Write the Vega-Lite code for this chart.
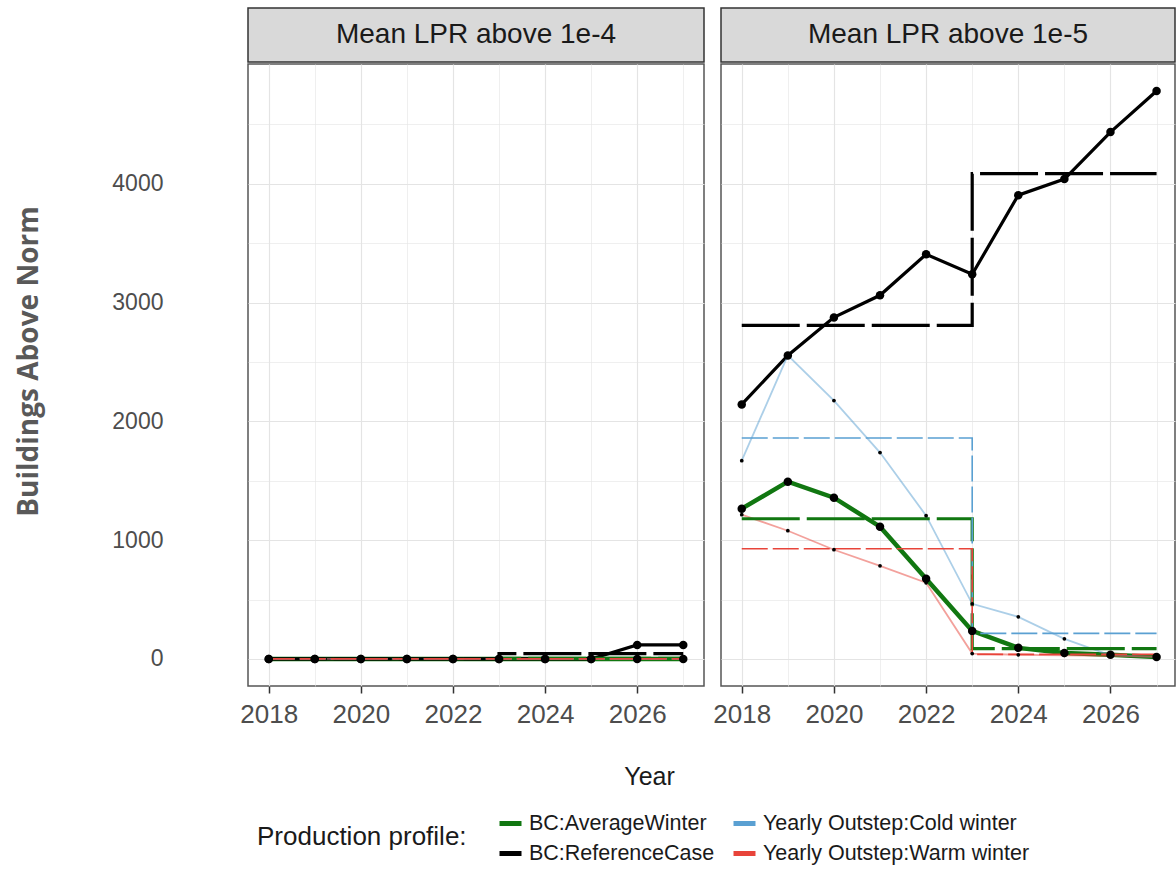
{
  "$schema": "https://vega.github.io/schema/vega-lite/v6.json",
  "padding": {"left": 15, "top": 7, "right": 0, "bottom": 5},
  "background": "white",
  "config": {
    "font": "Liberation Sans",
    "view": {"stroke": null},
    "axis": {"labelFont": "Liberation Sans", "titleFont": "Liberation Sans", "gridColor": "#e4e4e4"},
    "legend": {
      "orient": "none", "legendX": 9, "legendY": 802,
      "direction": "horizontal", "columns": 2,
      "titleOrient": "left", "titleAnchor": "middle", "titleBaseline": "middle",
      "titleFontSize": 26, "titleFontWeight": "normal", "titleColor": "#1a1a1a", "titlePadding": 30, "titleLimit": 500,
      "labelFontSize": 21.5, "labelColor": "#1a1a1a", "labelOffset": 5, "labelLimit": 500,
      "symbolType": "stroke", "symbolSize": 484, "symbolStrokeWidth": 5,
      "rowPadding": 6, "columnPadding": 8
    }
  },
  "datasets": {
    "strips": [{"panel": "Mean LPR above 1e-4"}, {"panel": "Mean LPR above 1e-5"}],
    "series": [
      {"panel":"Mean LPR above 1e-4","profile":"BC:AverageWinter","year":2018,"value":0,"kind":"annual"},
      {"panel":"Mean LPR above 1e-4","profile":"BC:AverageWinter","year":2019,"value":0,"kind":"annual"},
      {"panel":"Mean LPR above 1e-4","profile":"BC:AverageWinter","year":2020,"value":0,"kind":"annual"},
      {"panel":"Mean LPR above 1e-4","profile":"BC:AverageWinter","year":2021,"value":0,"kind":"annual"},
      {"panel":"Mean LPR above 1e-4","profile":"BC:AverageWinter","year":2022,"value":0,"kind":"annual"},
      {"panel":"Mean LPR above 1e-4","profile":"BC:AverageWinter","year":2023,"value":0,"kind":"annual"},
      {"panel":"Mean LPR above 1e-4","profile":"BC:AverageWinter","year":2024,"value":0,"kind":"annual"},
      {"panel":"Mean LPR above 1e-4","profile":"BC:AverageWinter","year":2025,"value":0,"kind":"annual"},
      {"panel":"Mean LPR above 1e-4","profile":"BC:AverageWinter","year":2026,"value":0,"kind":"annual"},
      {"panel":"Mean LPR above 1e-4","profile":"BC:AverageWinter","year":2027,"value":0,"kind":"annual"},
      {"panel":"Mean LPR above 1e-4","profile":"BC:AverageWinter","year":2018,"value":0,"kind":"mean"},
      {"panel":"Mean LPR above 1e-4","profile":"BC:AverageWinter","year":2023,"value":5,"kind":"mean"},
      {"panel":"Mean LPR above 1e-4","profile":"BC:AverageWinter","year":2027,"value":5,"kind":"mean"},
      {"panel":"Mean LPR above 1e-4","profile":"BC:ReferenceCase","year":2018,"value":0,"kind":"annual"},
      {"panel":"Mean LPR above 1e-4","profile":"BC:ReferenceCase","year":2019,"value":0,"kind":"annual"},
      {"panel":"Mean LPR above 1e-4","profile":"BC:ReferenceCase","year":2020,"value":0,"kind":"annual"},
      {"panel":"Mean LPR above 1e-4","profile":"BC:ReferenceCase","year":2021,"value":0,"kind":"annual"},
      {"panel":"Mean LPR above 1e-4","profile":"BC:ReferenceCase","year":2022,"value":0,"kind":"annual"},
      {"panel":"Mean LPR above 1e-4","profile":"BC:ReferenceCase","year":2023,"value":0,"kind":"annual"},
      {"panel":"Mean LPR above 1e-4","profile":"BC:ReferenceCase","year":2024,"value":0,"kind":"annual"},
      {"panel":"Mean LPR above 1e-4","profile":"BC:ReferenceCase","year":2025,"value":0,"kind":"annual"},
      {"panel":"Mean LPR above 1e-4","profile":"BC:ReferenceCase","year":2026,"value":118,"kind":"annual"},
      {"panel":"Mean LPR above 1e-4","profile":"BC:ReferenceCase","year":2027,"value":118,"kind":"annual"},
      {"panel":"Mean LPR above 1e-4","profile":"BC:ReferenceCase","year":2018,"value":0,"kind":"mean"},
      {"panel":"Mean LPR above 1e-4","profile":"BC:ReferenceCase","year":2023,"value":45,"kind":"mean"},
      {"panel":"Mean LPR above 1e-4","profile":"BC:ReferenceCase","year":2027,"value":45,"kind":"mean"},
      {"panel":"Mean LPR above 1e-4","profile":"Yearly Outstep:Cold winter","year":2018,"value":0,"kind":"annual"},
      {"panel":"Mean LPR above 1e-4","profile":"Yearly Outstep:Cold winter","year":2019,"value":0,"kind":"annual"},
      {"panel":"Mean LPR above 1e-4","profile":"Yearly Outstep:Cold winter","year":2020,"value":0,"kind":"annual"},
      {"panel":"Mean LPR above 1e-4","profile":"Yearly Outstep:Cold winter","year":2021,"value":0,"kind":"annual"},
      {"panel":"Mean LPR above 1e-4","profile":"Yearly Outstep:Cold winter","year":2022,"value":0,"kind":"annual"},
      {"panel":"Mean LPR above 1e-4","profile":"Yearly Outstep:Cold winter","year":2023,"value":0,"kind":"annual"},
      {"panel":"Mean LPR above 1e-4","profile":"Yearly Outstep:Cold winter","year":2024,"value":0,"kind":"annual"},
      {"panel":"Mean LPR above 1e-4","profile":"Yearly Outstep:Cold winter","year":2025,"value":0,"kind":"annual"},
      {"panel":"Mean LPR above 1e-4","profile":"Yearly Outstep:Cold winter","year":2026,"value":0,"kind":"annual"},
      {"panel":"Mean LPR above 1e-4","profile":"Yearly Outstep:Cold winter","year":2027,"value":0,"kind":"annual"},
      {"panel":"Mean LPR above 1e-4","profile":"Yearly Outstep:Cold winter","year":2018,"value":0,"kind":"mean"},
      {"panel":"Mean LPR above 1e-4","profile":"Yearly Outstep:Cold winter","year":2023,"value":0,"kind":"mean"},
      {"panel":"Mean LPR above 1e-4","profile":"Yearly Outstep:Cold winter","year":2027,"value":0,"kind":"mean"},
      {"panel":"Mean LPR above 1e-4","profile":"Yearly Outstep:Warm winter","year":2018,"value":0,"kind":"annual"},
      {"panel":"Mean LPR above 1e-4","profile":"Yearly Outstep:Warm winter","year":2019,"value":0,"kind":"annual"},
      {"panel":"Mean LPR above 1e-4","profile":"Yearly Outstep:Warm winter","year":2020,"value":0,"kind":"annual"},
      {"panel":"Mean LPR above 1e-4","profile":"Yearly Outstep:Warm winter","year":2021,"value":0,"kind":"annual"},
      {"panel":"Mean LPR above 1e-4","profile":"Yearly Outstep:Warm winter","year":2022,"value":0,"kind":"annual"},
      {"panel":"Mean LPR above 1e-4","profile":"Yearly Outstep:Warm winter","year":2023,"value":0,"kind":"annual"},
      {"panel":"Mean LPR above 1e-4","profile":"Yearly Outstep:Warm winter","year":2024,"value":0,"kind":"annual"},
      {"panel":"Mean LPR above 1e-4","profile":"Yearly Outstep:Warm winter","year":2025,"value":0,"kind":"annual"},
      {"panel":"Mean LPR above 1e-4","profile":"Yearly Outstep:Warm winter","year":2026,"value":0,"kind":"annual"},
      {"panel":"Mean LPR above 1e-4","profile":"Yearly Outstep:Warm winter","year":2027,"value":0,"kind":"annual"},
      {"panel":"Mean LPR above 1e-4","profile":"Yearly Outstep:Warm winter","year":2018,"value":0,"kind":"mean"},
      {"panel":"Mean LPR above 1e-4","profile":"Yearly Outstep:Warm winter","year":2023,"value":0,"kind":"mean"},
      {"panel":"Mean LPR above 1e-4","profile":"Yearly Outstep:Warm winter","year":2027,"value":0,"kind":"mean"},

      {"panel":"Mean LPR above 1e-5","profile":"BC:AverageWinter","year":2018,"value":1265,"kind":"annual"},
      {"panel":"Mean LPR above 1e-5","profile":"BC:AverageWinter","year":2019,"value":1492,"kind":"annual"},
      {"panel":"Mean LPR above 1e-5","profile":"BC:AverageWinter","year":2020,"value":1357,"kind":"annual"},
      {"panel":"Mean LPR above 1e-5","profile":"BC:AverageWinter","year":2021,"value":1113,"kind":"annual"},
      {"panel":"Mean LPR above 1e-5","profile":"BC:AverageWinter","year":2022,"value":675,"kind":"annual"},
      {"panel":"Mean LPR above 1e-5","profile":"BC:AverageWinter","year":2023,"value":236,"kind":"annual"},
      {"panel":"Mean LPR above 1e-5","profile":"BC:AverageWinter","year":2024,"value":93,"kind":"annual"},
      {"panel":"Mean LPR above 1e-5","profile":"BC:AverageWinter","year":2025,"value":50,"kind":"annual"},
      {"panel":"Mean LPR above 1e-5","profile":"BC:AverageWinter","year":2026,"value":35,"kind":"annual"},
      {"panel":"Mean LPR above 1e-5","profile":"BC:AverageWinter","year":2027,"value":17,"kind":"annual"},
      {"panel":"Mean LPR above 1e-5","profile":"BC:AverageWinter","year":2018,"value":1180,"kind":"mean"},
      {"panel":"Mean LPR above 1e-5","profile":"BC:AverageWinter","year":2023,"value":86,"kind":"mean"},
      {"panel":"Mean LPR above 1e-5","profile":"BC:AverageWinter","year":2027,"value":86,"kind":"mean"},
      {"panel":"Mean LPR above 1e-5","profile":"BC:ReferenceCase","year":2018,"value":2142,"kind":"annual"},
      {"panel":"Mean LPR above 1e-5","profile":"BC:ReferenceCase","year":2019,"value":2555,"kind":"annual"},
      {"panel":"Mean LPR above 1e-5","profile":"BC:ReferenceCase","year":2020,"value":2875,"kind":"annual"},
      {"panel":"Mean LPR above 1e-5","profile":"BC:ReferenceCase","year":2021,"value":3061,"kind":"annual"},
      {"panel":"Mean LPR above 1e-5","profile":"BC:ReferenceCase","year":2022,"value":3406,"kind":"annual"},
      {"panel":"Mean LPR above 1e-5","profile":"BC:ReferenceCase","year":2023,"value":3238,"kind":"annual"},
      {"panel":"Mean LPR above 1e-5","profile":"BC:ReferenceCase","year":2024,"value":3904,"kind":"annual"},
      {"panel":"Mean LPR above 1e-5","profile":"BC:ReferenceCase","year":2025,"value":4039,"kind":"annual"},
      {"panel":"Mean LPR above 1e-5","profile":"BC:ReferenceCase","year":2026,"value":4435,"kind":"annual"},
      {"panel":"Mean LPR above 1e-5","profile":"BC:ReferenceCase","year":2027,"value":4781,"kind":"annual"},
      {"panel":"Mean LPR above 1e-5","profile":"BC:ReferenceCase","year":2018,"value":2808,"kind":"mean"},
      {"panel":"Mean LPR above 1e-5","profile":"BC:ReferenceCase","year":2023,"value":4085,"kind":"mean"},
      {"panel":"Mean LPR above 1e-5","profile":"BC:ReferenceCase","year":2027,"value":4085,"kind":"mean"},
      {"panel":"Mean LPR above 1e-5","profile":"Yearly Outstep:Cold winter","year":2018,"value":1669,"kind":"annual"},
      {"panel":"Mean LPR above 1e-5","profile":"Yearly Outstep:Cold winter","year":2019,"value":2555,"kind":"annual"},
      {"panel":"Mean LPR above 1e-5","profile":"Yearly Outstep:Cold winter","year":2020,"value":2175,"kind":"annual"},
      {"panel":"Mean LPR above 1e-5","profile":"Yearly Outstep:Cold winter","year":2021,"value":1737,"kind":"annual"},
      {"panel":"Mean LPR above 1e-5","profile":"Yearly Outstep:Cold winter","year":2022,"value":1206,"kind":"annual"},
      {"panel":"Mean LPR above 1e-5","profile":"Yearly Outstep:Cold winter","year":2023,"value":464,"kind":"annual"},
      {"panel":"Mean LPR above 1e-5","profile":"Yearly Outstep:Cold winter","year":2024,"value":354,"kind":"annual"},
      {"panel":"Mean LPR above 1e-5","profile":"Yearly Outstep:Cold winter","year":2025,"value":169,"kind":"annual"},
      {"panel":"Mean LPR above 1e-5","profile":"Yearly Outstep:Cold winter","year":2026,"value":30,"kind":"annual"},
      {"panel":"Mean LPR above 1e-5","profile":"Yearly Outstep:Cold winter","year":2027,"value":17,"kind":"annual"},
      {"panel":"Mean LPR above 1e-5","profile":"Yearly Outstep:Cold winter","year":2018,"value":1860,"kind":"mean"},
      {"panel":"Mean LPR above 1e-5","profile":"Yearly Outstep:Cold winter","year":2023,"value":215,"kind":"mean"},
      {"panel":"Mean LPR above 1e-5","profile":"Yearly Outstep:Cold winter","year":2027,"value":215,"kind":"mean"},
      {"panel":"Mean LPR above 1e-5","profile":"Yearly Outstep:Warm winter","year":2018,"value":1214,"kind":"annual"},
      {"panel":"Mean LPR above 1e-5","profile":"Yearly Outstep:Warm winter","year":2019,"value":1079,"kind":"annual"},
      {"panel":"Mean LPR above 1e-5","profile":"Yearly Outstep:Warm winter","year":2020,"value":919,"kind":"annual"},
      {"panel":"Mean LPR above 1e-5","profile":"Yearly Outstep:Warm winter","year":2021,"value":784,"kind":"annual"},
      {"panel":"Mean LPR above 1e-5","profile":"Yearly Outstep:Warm winter","year":2022,"value":641,"kind":"annual"},
      {"panel":"Mean LPR above 1e-5","profile":"Yearly Outstep:Warm winter","year":2023,"value":45,"kind":"annual"},
      {"panel":"Mean LPR above 1e-5","profile":"Yearly Outstep:Warm winter","year":2024,"value":35,"kind":"annual"},
      {"panel":"Mean LPR above 1e-5","profile":"Yearly Outstep:Warm winter","year":2025,"value":30,"kind":"annual"},
      {"panel":"Mean LPR above 1e-5","profile":"Yearly Outstep:Warm winter","year":2026,"value":25,"kind":"annual"},
      {"panel":"Mean LPR above 1e-5","profile":"Yearly Outstep:Warm winter","year":2027,"value":17,"kind":"annual"},
      {"panel":"Mean LPR above 1e-5","profile":"Yearly Outstep:Warm winter","year":2018,"value":927,"kind":"mean"},
      {"panel":"Mean LPR above 1e-5","profile":"Yearly Outstep:Warm winter","year":2023,"value":38,"kind":"mean"},
      {"panel":"Mean LPR above 1e-5","profile":"Yearly Outstep:Warm winter","year":2027,"value":38,"kind":"mean"}
    ]
  },
  "resolve": {"scale": {"color": "shared", "y": "shared"}, "legend": {"color": "shared"}},
  "spacing": 7,
  "hconcat": [
    {
      "spacing": 0,
      "resolve": {"scale": {"color": "shared"}, "legend": {"color": "shared"}},
      "vconcat": [
        {
          "width": 456, "height": 54,
          "data": {"name": "strips"},
          "transform": [{"filter": "datum.panel == 'Mean LPR above 1e-4'"}],
          "view": {"fill": "#d9d9d9", "stroke": "#333333", "strokeWidth": 1.5},
          "mark": {"type": "text", "fontSize": 28, "color": "#1a1a1a", "font": "Liberation Sans"},
          "encoding": {"text": {"field": "panel", "type": "nominal"}}
        },
        {
          "width": 456, "height": 622,
          "data": {"name": "series"},
          "transform": [{"filter": "datum.panel == 'Mean LPR above 1e-4'"}],
          "view": {"stroke": "#555555", "strokeWidth": 1.5},
          "encoding": {
            "x": {"field": "year", "type": "quantitative",
              "scale": {"domain": [2017.55, 2027.45], "nice": false, "zero": false},
              "axis": {"values": [2018, 2019, 2020, 2021, 2022, 2023, 2024, 2025, 2026, 2027], "format": "d",
                "labelExpr": "datum.value % 2 == 0 ? datum.label : ''", "labelOverlap": false,
                "labelFontSize": 26, "labelColor": "#4d4d4d", "labelPadding": 8,
                "domain": false, "tickSize": 7, "tickWidth": 1.5, "tickColor": "#333333",
                "tickOpacity": {"condition": {"test": "datum.value % 2 == 0", "value": 1}, "value": 0},
                "gridWidth": {"condition": {"test": "datum.value % 2 == 0", "value": 1.2}, "value": 0.6},
                "title": "Year", "titleFontSize": 25, "titleFontWeight": "normal", "titleColor": "#1a1a1a",
                "titleX": 401, "titleY": 98, "titleBaseline": "alphabetic", "titleAlign": "center", "titleAnchor": null}},
            "y": {"field": "value", "type": "quantitative",
              "scale": {"domain": [-228, 5008], "nice": false, "zero": false},
              "axis": {"values": [0, 500, 1000, 1500, 2000, 2500, 3000, 3500, 4000, 4500], "format": "d",
                "labelExpr": "datum.value % 1000 == 0 ? datum.label : ''",
                "labelFontSize": 23, "labelColor": "#4d4d4d", "labelPadding": 85,
                "domain": false, "ticks": false,
                "gridWidth": {"condition": {"test": "datum.value % 1000 == 0", "value": 1.2}, "value": 0.6},
                "title": "Buildings Above Norm", "titleFont": "Open Sans", "titleFontSize": 28, "titleFontWeight": "bold",
                "titleColor": "#595959", "titlePadding": 68, "titleY": 297}}
          },
          "layer": [
            {"transform": [{"filter": "datum.kind == 'annual' && datum.profile == 'BC:AverageWinter'"}],
             "mark": {"type": "line", "strokeWidth": 4.5},
             "encoding": {"color": {"field": "profile", "type": "nominal", "title": "Production profile:",
               "scale": {"domain": ["BC:AverageWinter", "Yearly Outstep:Cold winter", "BC:ReferenceCase", "Yearly Outstep:Warm winter"], "range": ["#117711", "#5aa0d2", "#000000", "#e8443a"]},
               "legend": {"symbolType": "stroke", "symbolStrokeWidth": 5, "symbolOpacity": 1, "symbolDash": [1, 0],
                 "encode": {"symbols": {"update": {"strokeDash": {"value": [1, 0]}, "opacity": {"value": 1}, "strokeWidth": {"value": 5}}}}}}}},
            {"transform": [{"filter": "datum.kind == 'annual' && datum.profile == 'BC:ReferenceCase'"}],
             "mark": {"type": "line", "strokeWidth": 3.2},
             "encoding": {"color": {"field": "profile", "type": "nominal"}}},
            {"transform": [{"filter": "datum.kind == 'annual' && indexof(datum.profile, 'Yearly') == 0"}],
             "mark": {"type": "line", "strokeWidth": 1.8, "opacity": 0.5},
             "encoding": {"color": {"field": "profile", "type": "nominal"}}},
            {"transform": [{"filter": "datum.kind == 'mean' && indexof(datum.profile, 'BC') == 0"}],
             "mark": {"type": "line", "strokeWidth": 3.2, "strokeDash": [58, 7], "interpolate": "step-after"},
             "encoding": {"color": {"field": "profile", "type": "nominal"}}},
            {"transform": [{"filter": "datum.kind == 'mean' && indexof(datum.profile, 'Yearly') == 0"}],
             "mark": {"type": "line", "strokeWidth": 1.6, "strokeDash": [26, 5], "interpolate": "step-after"},
             "encoding": {"color": {"field": "profile", "type": "nominal"}}},
            {"transform": [{"filter": "datum.kind == 'annual' && indexof(datum.profile, 'Yearly') == 0"}],
             "mark": {"type": "point", "filled": true, "color": "#000000", "size": 14, "opacity": 1},
             "encoding": {"detail": {"field": "profile", "type": "nominal"}}},
            {"transform": [{"filter": "datum.kind == 'annual' && indexof(datum.profile, 'BC') == 0"}],
             "mark": {"type": "point", "filled": true, "color": "#000000", "size": 72, "opacity": 1},
             "encoding": {"detail": {"field": "profile", "type": "nominal"}}}
          ]
        }
      ]
    },
    {
      "spacing": 0,
      "resolve": {"scale": {"color": "shared"}, "legend": {"color": "shared"}},
      "vconcat": [
        {
          "width": 454, "height": 54,
          "data": {"name": "strips"},
          "transform": [{"filter": "datum.panel == 'Mean LPR above 1e-5'"}],
          "view": {"fill": "#d9d9d9", "stroke": "#333333", "strokeWidth": 1.5},
          "mark": {"type": "text", "fontSize": 28, "color": "#1a1a1a", "font": "Liberation Sans"},
          "encoding": {"text": {"field": "panel", "type": "nominal"}}
        },
        {
          "width": 454, "height": 622,
          "data": {"name": "series"},
          "transform": [{"filter": "datum.panel == 'Mean LPR above 1e-5'"}],
          "view": {"stroke": "#555555", "strokeWidth": 1.5},
          "encoding": {
            "x": {"field": "year", "type": "quantitative",
              "scale": {"domain": [2017.55, 2027.4], "nice": false, "zero": false},
              "axis": {"values": [2018, 2019, 2020, 2021, 2022, 2023, 2024, 2025, 2026, 2027], "format": "d",
                "labelExpr": "datum.value % 2 == 0 ? datum.label : ''", "labelOverlap": false,
                "labelFontSize": 26, "labelColor": "#4d4d4d", "labelPadding": 8,
                "domain": false, "tickSize": 7, "tickWidth": 1.5, "tickColor": "#333333",
                "tickOpacity": {"condition": {"test": "datum.value % 2 == 0", "value": 1}, "value": 0},
                "gridWidth": {"condition": {"test": "datum.value % 2 == 0", "value": 1.2}, "value": 0.6},
                "title": null}},
            "y": {"field": "value", "type": "quantitative",
              "scale": {"domain": [-228, 5008], "nice": false, "zero": false},
              "axis": {"values": [0, 500, 1000, 1500, 2000, 2500, 3000, 3500, 4000, 4500],
                "labels": false, "domain": false, "ticks": false, "title": null,
                "gridWidth": {"condition": {"test": "datum.value % 1000 == 0", "value": 1.2}, "value": 0.6}}}
          },
          "layer": [
            {"transform": [{"filter": "datum.kind == 'annual' && datum.profile == 'BC:AverageWinter'"}],
             "mark": {"type": "line", "strokeWidth": 4.5},
             "encoding": {"color": {"field": "profile", "type": "nominal"}}},
            {"transform": [{"filter": "datum.kind == 'annual' && datum.profile == 'BC:ReferenceCase'"}],
             "mark": {"type": "line", "strokeWidth": 3.2},
             "encoding": {"color": {"field": "profile", "type": "nominal"}}},
            {"transform": [{"filter": "datum.kind == 'annual' && indexof(datum.profile, 'Yearly') == 0"}],
             "mark": {"type": "line", "strokeWidth": 1.8, "opacity": 0.5},
             "encoding": {"color": {"field": "profile", "type": "nominal"}}},
            {"transform": [{"filter": "datum.kind == 'mean' && indexof(datum.profile, 'BC') == 0"}],
             "mark": {"type": "line", "strokeWidth": 3.2, "strokeDash": [58, 7], "interpolate": "step-after"},
             "encoding": {"color": {"field": "profile", "type": "nominal"}}},
            {"transform": [{"filter": "datum.kind == 'mean' && indexof(datum.profile, 'Yearly') == 0"}],
             "mark": {"type": "line", "strokeWidth": 1.6, "strokeDash": [26, 5], "interpolate": "step-after"},
             "encoding": {"color": {"field": "profile", "type": "nominal"}}},
            {"transform": [{"filter": "datum.kind == 'annual' && indexof(datum.profile, 'Yearly') == 0"}],
             "mark": {"type": "point", "filled": true, "color": "#000000", "size": 14, "opacity": 1},
             "encoding": {"detail": {"field": "profile", "type": "nominal"}}},
            {"transform": [{"filter": "datum.kind == 'annual' && indexof(datum.profile, 'BC') == 0"}],
             "mark": {"type": "point", "filled": true, "color": "#000000", "size": 72, "opacity": 1},
             "encoding": {"detail": {"field": "profile", "type": "nominal"}}}
          ]
        }
      ]
    }
  ]
}
